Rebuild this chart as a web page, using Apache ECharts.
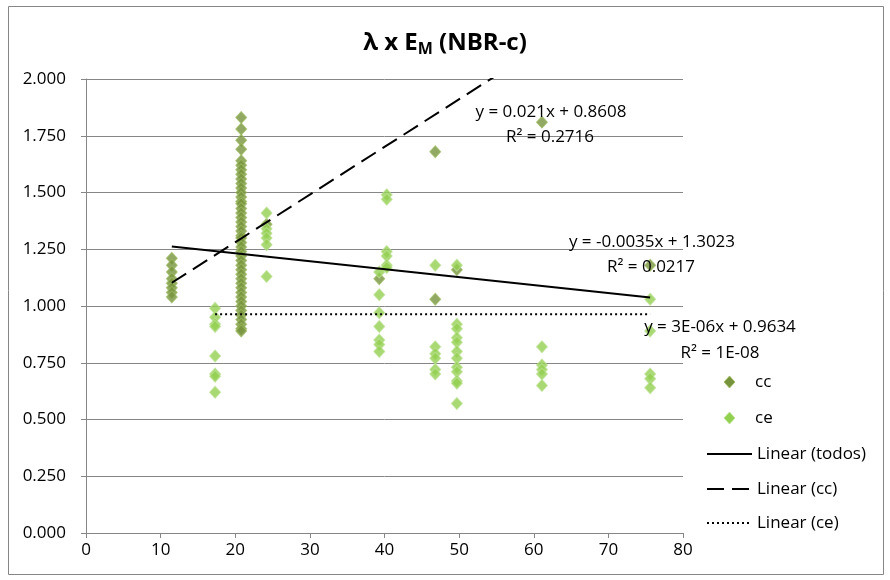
<!DOCTYPE html>
<html>
<head>
<meta charset="utf-8">
<script src="https://cdn.jsdelivr.net/npm/echarts@6/dist/echarts.min.js"></script>
<style>
  html, body { margin: 0; padding: 0; background: #fff; }
  #chart { width: 890px; height: 580px; }
</style>
</head>
<body>
<div id="chart"></div>
<script>
// λ x E_M (NBR-c): two scatter groups plus three linear fits
const ccPoints = [
  [11.5, 1.21], [11.5, 1.18], [11.5, 1.15], [11.5, 1.12], [11.5, 1.10], [11.5, 1.08], [11.5, 1.06], [11.5, 1.04],
  [20.8, 1.83], [20.8, 1.78], [20.8, 1.73], [20.8, 1.69], [20.8, 1.64], [20.8, 1.62], [20.8, 1.60], [20.8, 1.58],
  [20.8, 1.56], [20.8, 1.54], [20.8, 1.52], [20.8, 1.50], [20.8, 1.48], [20.8, 1.46], [20.8, 1.45], [20.8, 1.43],
  [20.8, 1.41], [20.8, 1.39], [20.8, 1.37], [20.8, 1.35], [20.8, 1.33], [20.8, 1.31], [20.8, 1.30], [20.8, 1.28],
  [20.8, 1.26], [20.8, 1.24], [20.8, 1.22], [20.8, 1.20], [20.8, 1.18], [20.8, 1.16], [20.8, 1.14], [20.8, 1.12],
  [20.8, 1.10], [20.8, 1.08], [20.8, 1.06], [20.8, 1.04], [20.8, 1.02], [20.8, 1.00], [20.8, 0.98], [20.8, 0.96],
  [20.8, 0.94], [20.8, 0.92], [20.8, 0.90], [20.8, 0.89],
  [24.2, 1.36], [39.3, 1.12], [46.8, 1.68], [46.8, 1.03], [49.7, 1.16], [61.1, 1.81], [75.6, 1.18]
];
const cePoints = [
  [17.3, 0.99], [17.3, 0.95], [17.3, 0.92], [17.3, 0.91], [17.3, 0.78], [17.3, 0.70], [17.3, 0.69], [17.3, 0.62],
  [24.2, 1.41], [24.2, 1.34], [24.2, 1.32], [24.2, 1.30], [24.2, 1.27], [24.2, 1.13],
  [39.3, 1.15], [39.3, 1.05], [39.3, 0.97], [39.3, 0.91], [39.3, 0.85], [39.3, 0.83], [39.3, 0.80],
  [40.3, 1.49], [40.3, 1.47], [40.3, 1.24], [40.3, 1.22], [40.3, 1.18], [40.3, 1.17],
  [46.8, 1.18], [46.8, 0.82], [46.8, 0.79], [46.8, 0.77], [46.8, 0.72], [46.8, 0.70],
  [49.7, 1.18], [49.7, 0.92], [49.7, 0.90], [49.7, 0.86], [49.7, 0.84], [49.7, 0.80], [49.7, 0.77], [49.7, 0.73],
  [49.7, 0.71], [49.7, 0.67], [49.7, 0.66], [49.7, 0.57],
  [61.1, 0.82], [61.1, 0.74], [61.1, 0.72], [61.1, 0.70], [61.1, 0.65],
  [75.6, 1.03], [75.6, 0.89], [75.6, 0.70], [75.6, 0.68], [75.6, 0.64]
];

// linear fits: [slope, intercept], drawn over [xFrom, xTo]
const fitTodos = [-0.0035, 1.3023];
const fitCc = [0.021, 0.8608];
const fitCe = [3e-6, 0.9634];
const rangeTodos = [11.5, 75.6];
const rangeCc = [11.5, 75.6];
const rangeCe = [17.3, 75.6];

const fitLabels = [
  ['y = 0.021x + 0.8608', 'R² = 0.2716'],
  ['y = -0.0035x + 1.3023', 'R² = 0.0217'],
  ['y = 3E-06x + 0.9634', 'R² = 1E-08']
];
const legendNames = ['cc', 'ce', 'Linear (todos)', 'Linear (cc)', 'Linear (ce)'];

const xTicks = [0, 80, 10];
const yTicks = [0, 2, 0.25];

const CC_COLOR = '#77933C';
const CE_COLOR = '#92D050';
const CC_BORDER = 'rgba(160,190,100,0.85)';
const CE_BORDER = 'rgba(190,226,150,0.9)';
const DASH = [17, 8];
const DOT = [2, 3];

function fitLine(fit, range) {
  return range.map(x => [x, fit[0] * x + fit[1]]);
}

const FONT = '"Open Sans"';
const FS = 17;
const chart = echarts.init(document.getElementById('chart'));

const txt = (text, x, y, align) => ({
  type: 'text', x, y, z: 10, silent: true,
  style: { text, fontFamily: FONT, fontSize: FS, fill: '#000', align: align || 'center', verticalAlign: 'middle' }
});
const diamond = (cx, cy, fill, stroke) => ({
  type: 'polygon', z: 10, silent: true,
  shape: { points: [[cx, cy - 6], [cx + 5.5, cy], [cx, cy + 6], [cx - 5.5, cy]] },
  style: { fill, stroke, lineWidth: 1 }
});
const legLine = (y, dash) => ({
  type: 'line', z: 10, silent: true,
  shape: { x1: 707, y1: y, x2: 752, y2: y },
  style: { stroke: '#000', lineWidth: 2, lineDash: dash || null }
});

chart.setOption({
  animation: false,
  backgroundColor: '#fff',
  title: {
    text: '{a|λ x E}{s|M}{a| (NBR-c)}',
    left: 'center',
    top: 25,
    textStyle: {
      rich: {
        a: { fontFamily: FONT, fontSize: 24, fontWeight: 'bold', color: '#000' },
        s: { fontFamily: FONT, fontSize: 16, fontWeight: 'bold', color: '#000', padding: [11, 0, 0, 0] }
      }
    }
  },
  grid: { left: 86, right: 207, top: 79, bottom: 47, containLabel: false },
  xAxis: {
    type: 'value', min: xTicks[0], max: xTicks[1], interval: xTicks[2],
    axisLine: { lineStyle: { color: '#868686', width: 1 } },
    axisTick: { show: true, inside: false, length: 5, lineStyle: { color: '#868686' } },
    axisLabel: { fontFamily: FONT, fontSize: FS, color: '#000', margin: 9 },
    splitLine: { show: false }
  },
  yAxis: {
    type: 'value', min: yTicks[0], max: yTicks[1], interval: yTicks[2],
    axisLine: { show: true, lineStyle: { color: '#868686', width: 1 } },
    axisTick: { show: true, inside: false, length: 5, lineStyle: { color: '#868686' } },
    axisLabel: { fontFamily: FONT, fontSize: FS, color: '#000', margin: 20, formatter: v => v.toFixed(3) },
    splitLine: { show: true, lineStyle: { color: '#868686', width: 1 } }
  },
  series: [
    {
      name: legendNames[0], type: 'scatter', data: ccPoints,
      symbol: 'diamond', symbolSize: [11, 12],
      itemStyle: { color: CC_COLOR, borderColor: CC_BORDER, borderWidth: 1 }
    },
    {
      name: legendNames[1], type: 'scatter', data: cePoints,
      symbol: 'diamond', symbolSize: [11, 12],
      itemStyle: { color: CE_COLOR, borderColor: CE_BORDER, borderWidth: 1 }
    },
    {
      name: legendNames[2], type: 'line', data: fitLine(fitTodos, rangeTodos),
      symbol: 'none', showSymbol: false, clip: true,
      lineStyle: { color: '#000', width: 2, type: 'solid' }
    },
    {
      name: legendNames[3], type: 'line', data: fitLine(fitCc, rangeCc),
      symbol: 'none', showSymbol: false, clip: true,
      lineStyle: { color: '#000', width: 2, type: DASH }
    },
    {
      name: legendNames[4], type: 'line', data: fitLine(fitCe, rangeCe),
      symbol: 'none', showSymbol: false, clip: true,
      lineStyle: { color: '#000', width: 2, type: DOT }
    }
  ],
  graphic: [
    { type: 'rect', shape: { x: 8.5, y: 6.5, width: 875, height: 568 }, style: { fill: 'none', stroke: '#868686', lineWidth: 1 }, silent: true, z: -1 },
    // fit equations
    txt(fitLabels[0][0], 551, 112), txt(fitLabels[0][1], 550, 137),
    txt(fitLabels[1][0], 652, 242), txt(fitLabels[1][1], 651, 267),
    txt(fitLabels[2][0], 720, 327), txt(fitLabels[2][1], 720, 353),
    // legend
    diamond(729.5, 382, CC_COLOR, CC_BORDER), txt(legendNames[0], 755, 382, 'left'),
    diamond(729.5, 418, CE_COLOR, CE_BORDER), txt(legendNames[1], 755, 418, 'left'),
    legLine(454), txt(legendNames[2], 757, 454, 'left'),
    legLine(489, DASH), txt(legendNames[3], 757, 489, 'left'),
    legLine(523, DOT), txt(legendNames[4], 757, 523, 'left')
  ]
});
</script>
</body>
</html>
